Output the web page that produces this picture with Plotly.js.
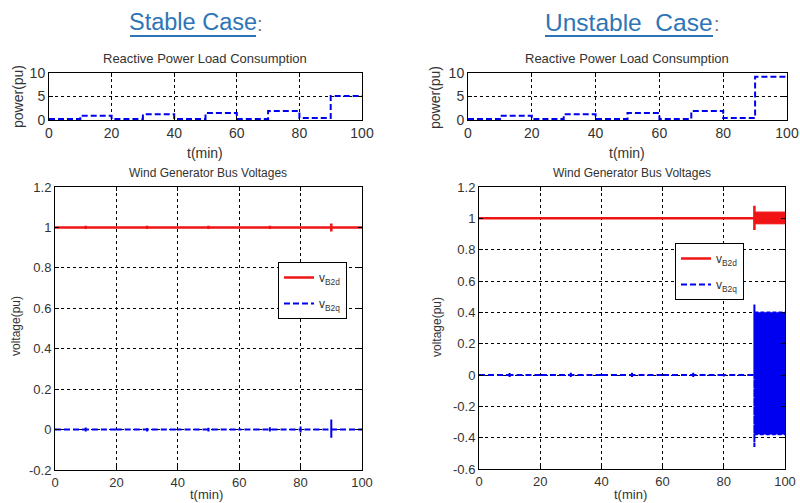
<!DOCTYPE html>
<html>
<head>
<meta charset="utf-8">
<script src="https://cdn.plot.ly/plotly-3.0.1.min.js"></script>
<style>html,body{margin:0;padding:0;background:#fff;}#chart{width:800px;height:503px;}</style>
</head>
<body>
<div id="chart"></div>
<script>
// ---- data ----
const tQ = [0, 10, 20, 30, 40, 50, 60, 70, 80, 90, 100];
const qStable = [0.2, 0.9, 0.2, 1.2, 0.2, 1.5, 0.2, 1.9, 0.4, 5.1, 5.1];
const qUnstable = [0.2, 0.9, 0.2, 1.2, 0.2, 1.5, 0.2, 1.9, 0.4, 9.2, 9.2];

const tV = [0, 10, 10, 10, 10, 20, 20, 20, 20, 30, 30, 30, 30, 40, 40, 40, 40,
            50, 50, 50, 50, 60, 60, 60, 60, 70, 70, 70, 70, 80, 80, 80, 80, 90, 90, 90, 90, 100];
const vdStable = [1, 1, 1.008, 0.992, 1, 1, 1.003, 0.997, 1, 1, 1.008, 0.992, 1, 1, 1.003, 0.997, 1,
                  1, 1.008, 0.992, 1, 1, 1.003, 0.997, 1, 1, 1.008, 0.992, 1, 1, 1.004, 0.996, 1, 1, 1.02, 0.98, 1, 1];
const vqStable = [0, 0, 0.01, -0.01, 0, 0, 0.004, -0.004, 0, 0, 0.012, -0.01, 0, 0, 0.004, -0.004, 0,
                  0, 0.012, -0.01, 0, 0, 0.004, -0.004, 0, 0, 0.012, -0.01, 0, 0, 0.015, -0.015, 0, 0, 0.05, -0.04, 0, 0];
const vdUnstable = [1, 1, 1.008, 0.992, 1, 1, 1.003, 0.997, 1, 1, 1.008, 0.992, 1, 1, 1.003, 0.997, 1,
                    1, 1.008, 0.992, 1, 1, 1.003, 0.997, 1, 1, 1.008, 0.992, 1, 1, 1.004, 0.996, 1, 1, 1.08, 0.925, 1, 1];
const vqUnstable = [0, 0, 0.012, -0.012, 0, 0, 0.004, -0.004, 0, 0, 0.015, -0.012, 0, 0, 0.004, -0.004, 0,
                    0, 0.015, -0.012, 0, 0, 0.004, -0.004, 0, 0, 0.015, -0.012, 0, 0, 0.01, -0.01, 0, 0, 0.45, -0.46, 0, 0];
// oscillation envelopes after t = 90 (unstable case)
const tBand = [90, 100];
const vdUpper = [1.04, 1.04];
const vdLower = [0.965, 0.965];
const vqUpper = [0.40, 0.40];
const vqLower = [-0.38, -0.38];

const xTicks = [0, 20, 40, 60, 80, 100];
const xTickText = ['0', '20', '40', '60', '80', '100'];
const qTicks = [0, 5, 10];
const qTickText = ['0', '5', '10'];
const vTicksS = [-0.2, 0, 0.2, 0.4, 0.6, 0.8, 1, 1.2];
const vTickTextS = ['-0.2', '0', '0.2', '0.4', '0.6', '0.8', '1', '1.2'];
const vTicksU = [-0.6, -0.4, -0.2, 0, 0.2, 0.4, 0.6, 0.8, 1, 1.2];
const vTickTextU = ['-0.6', '-0.4', '-0.2', '0', '0.2', '0.4', '0.6', '0.8', '1', '1.2'];

// ---- helpers ----
const W = 800, H = 503;
const px = v => v / W;
const py = v => 1 - v / H;
const RED = '#f01414', BLUE = '#0000f0';
const FONT = 'Liberation Sans, Arial, sans-serif';

function band(t, up, lo) {
  return { x: t.concat(t.slice().reverse()), y: up.concat(lo.slice().reverse()) };
}
const bd = band(tBand, vdUpper, vdLower);
const bq = band(tBand, vqUpper, vqLower);

const traces = [
  { x: tQ, y: qStable, xaxis: 'x', yaxis: 'y', mode: 'lines', line: { shape: 'hv', color: BLUE, width: 2, dash: '6px,3px' }, showlegend: false },
  { x: tQ, y: qUnstable, xaxis: 'x2', yaxis: 'y2', mode: 'lines', line: { shape: 'hv', color: BLUE, width: 2, dash: '6px,3px' }, showlegend: false },
  { x: tV, y: vdStable, xaxis: 'x3', yaxis: 'y3', mode: 'lines', name: 'v<sub>B2d</sub>', legend: 'legend', legendgroup: 'a', line: { color: RED, width: 2.5 } },
  { x: tV, y: vqStable, xaxis: 'x3', yaxis: 'y3', mode: 'lines', name: 'v<sub>B2q</sub>', legend: 'legend', legendgroup: 'b', line: { color: BLUE, width: 2, dash: '6px,3px' } },
  { x: bd.x, y: bd.y, xaxis: 'x4', yaxis: 'y4', mode: 'lines', fill: 'toself', fillcolor: RED, line: { color: RED, width: 1 }, showlegend: false },
  { x: bq.x, y: bq.y, xaxis: 'x4', yaxis: 'y4', mode: 'lines', fill: 'toself', fillcolor: BLUE, line: { color: BLUE, width: 1.5, dash: '4px,2px' }, showlegend: false },
  { x: tV, y: vdUnstable, xaxis: 'x4', yaxis: 'y4', mode: 'lines', name: 'v<sub>B2d</sub>', legend: 'legend2', legendgroup: 'a', line: { color: RED, width: 2.5 } },
  { x: tV, y: vqUnstable, xaxis: 'x4', yaxis: 'y4', mode: 'lines', name: 'v<sub>B2q</sub>', legend: 'legend2', legendgroup: 'b', line: { color: BLUE, width: 2, dash: '6px,3px' } }
];

function ax(domain, range, tv, tt, anchor, fs) {
  return {
    domain: domain, range: range, anchor: anchor,
    tickmode: 'array', tickvals: tv, ticktext: tt,
    ticks: 'inside', ticklen: 4, tickcolor: '#000', tickwidth: 1,
    showline: true, linecolor: '#000', linewidth: 1, mirror: 'allticks',
    showgrid: true, gridcolor: '#000', gridwidth: 1, griddash: '3px,3px',
    zeroline: false, fixedrange: true,
    tickfont: { family: FONT, size: fs, color: '#333' }
  };
}

const layout = {
  width: W, height: H,
  margin: { l: 0, r: 0, t: 0, b: 0 },
  paper_bgcolor: '#fff', plot_bgcolor: '#fff',
  xaxis: ax([px(49), px(362)], [0, 100], xTicks, xTickText, 'y', 14),
  yaxis: ax([py(120), py(73)], [0, 10], qTicks, qTickText, 'x', 14),
  xaxis2: ax([px(468), px(787)], [0, 100], xTicks, xTickText, 'y2', 14),
  yaxis2: ax([py(120), py(73)], [0, 10], qTicks, qTickText, 'x2', 14),
  xaxis3: ax([px(55), px(362)], [0, 100], xTicks, xTickText, 'y3', 13),
  yaxis3: ax([py(470), py(187)], [-0.2, 1.2], vTicksS, vTickTextS, 'x3', 13),
  xaxis4: ax([px(479), px(785)], [0, 100], xTicks, xTickText, 'y4', 13),
  yaxis4: ax([py(469), py(187)], [-0.6, 1.2], vTicksU, vTickTextU, 'x4', 13),
  legend: {
    x: px(278), y: py(262), xanchor: 'left', yanchor: 'top',
    bgcolor: '#fff', bordercolor: '#000', borderwidth: 1,
    font: { family: FONT, size: 12, color: '#333' }, tracegroupgap: 7, itemwidth: 30
  },
  legend2: {
    x: px(675), y: py(243), xanchor: 'left', yanchor: 'top',
    bgcolor: '#fff', bordercolor: '#000', borderwidth: 1,
    font: { family: FONT, size: 12, color: '#333' }, tracegroupgap: 7, itemwidth: 30
  },
  annotations: [],
  shapes: [
    { type: 'line', xref: 'paper', yref: 'paper', x0: px(130), x1: px(256), y0: py(36), y1: py(36), line: { color: '#2e75b6', width: 2 } },
    { type: 'line', xref: 'paper', yref: 'paper', x0: px(545), x1: px(713), y0: py(36), y1: py(36), line: { color: '#2e75b6', width: 2 } }
  ]
};

function ann(text, x, y, size, opts) {
  return Object.assign({
    text: text, xref: 'paper', yref: 'paper', x: px(x), y: py(y),
    xanchor: 'center', yanchor: 'middle', showarrow: false,
    font: { family: FONT, size: size, color: '#333' }
  }, opts || {});
}
layout.annotations.push(
  ann('Stable Case', 193, 22, 23.5, { font: { family: FONT, size: 23.5, color: '#2e75b6' } }),
  ann(':', 255, 24, 20, { xanchor: 'left', font: { family: FONT, size: 20, color: '#777' } }),
  ann('Unstable&nbsp;&nbsp;Case', 629, 22, 24.5, { font: { family: FONT, size: 24.5, color: '#2e75b6' } }),
  ann(':', 712, 24, 20, { xanchor: 'left', font: { family: FONT, size: 20, color: '#777' } }),
  ann('Reactive Power Load Consumption', 205, 58, 13),
  ann('Reactive Power Load Consumption', 627, 58, 13),
  ann('t(min)', 205, 153, 14),
  ann('t(min)', 627, 153, 14),
  ann('power(pu)', 18, 97, 14, { textangle: -90 }),
  ann('power(pu)', 435, 97, 14, { textangle: -90 }),
  ann('Wind Generator Bus Voltages', 208, 173, 12),
  ann('Wind Generator Bus Voltages', 632, 173, 12),
  ann('t(min)', 207, 494, 13),
  ann('t(min)', 630, 494, 13),
  ann('voltage(pu)', 16, 326, 12, { textangle: -90 }),
  ann('voltage(pu)', 437, 327, 12, { textangle: -90 })
);

Plotly.newPlot('chart', traces, layout, { staticPlot: true, displayModeBar: false });
</script>
</body>
</html>
